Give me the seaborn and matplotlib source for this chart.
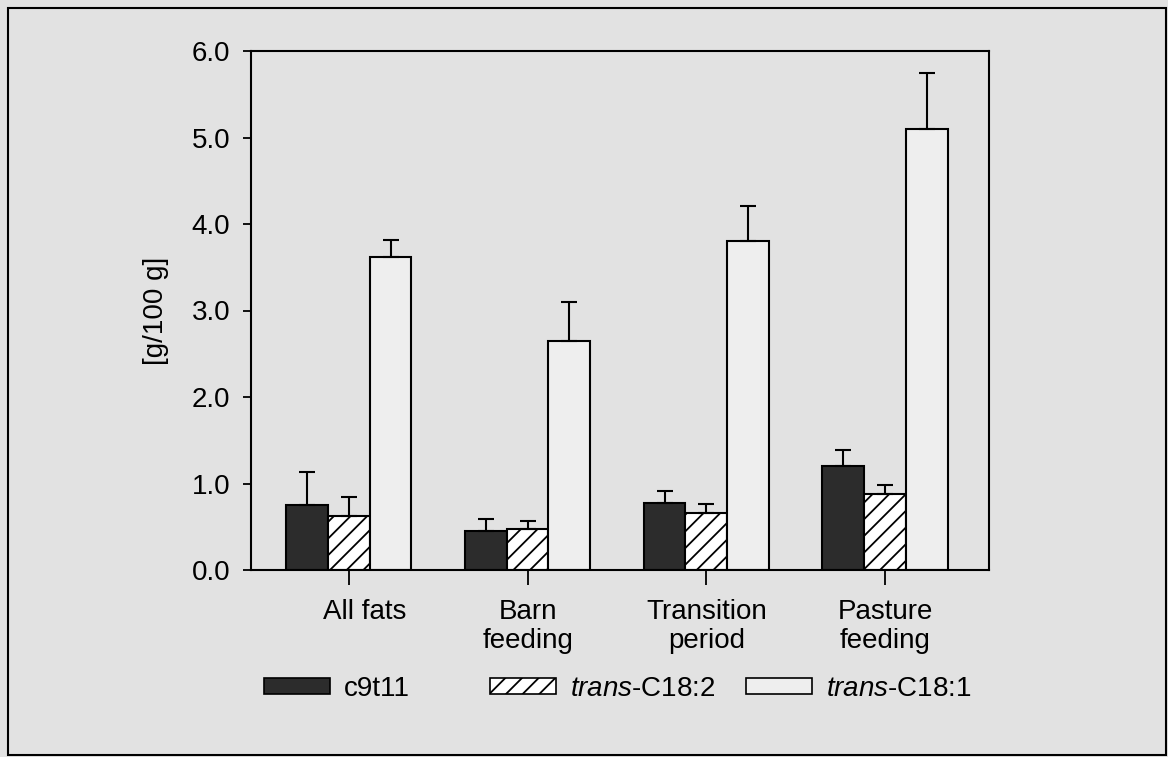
import numpy as np
import pandas as pd
import matplotlib
matplotlib.use("Agg")
import matplotlib.pyplot as plt
import matplotlib.transforms as mtransforms
from matplotlib.patches import Rectangle, Patch
import seaborn as sns

# ---------------- data ----------------
categories = ["All fats", "Barn\nfeeding", "Transition\nperiod", "Pasture\nfeeding"]
series = ["c9t11", "trans-C18:2", "trans-C18:1"]
series_labels = ["c9t11", r"$\it{trans}$-C18:2", r"$\it{trans}$-C18:1"]

c9t11 = [0.75, 0.45, 0.77, 1.20]
c9t11_err = [0.38, 0.14, 0.14, 0.19]
t182 = [0.63, 0.47, 0.66, 0.88]
t182_err = [0.21, 0.10, 0.10, 0.10]
t181 = [3.62, 2.65, 3.80, 5.10]
t181_err = [0.20, 0.45, 0.41, 0.65]

yticks = [0, 1, 2, 3, 4, 5, 6]
ytick_labels = ["0.0", "1.0", "2.0", "3.0", "4.0", "5.0", "6.0"]
ylabel = "[g/100 g]"

values = [c9t11, t182, t181]
errors = [c9t11_err, t182_err, t181_err]

# ---------------- style ----------------
bg = "#e2e2e2"
fills = ["#2c2c2c", "#ffffff", "#eeeeee"]
hatches = ["", "//", ""]

sns.set_style("ticks")
plt.rcParams["font.family"] = ["Liberation Sans", "DejaVu Sans"]
plt.rcParams["mathtext.fontset"] = "custom"
plt.rcParams["mathtext.rm"] = "Liberation Sans"
plt.rcParams["mathtext.it"] = "Liberation Sans:italic"
plt.rcParams["hatch.linewidth"] = 1.3
plt.rcParams["hatch.color"] = "black"
plt.rcParams["text.color"] = "black"
plt.rcParams["axes.labelcolor"] = "black"

df = pd.DataFrame({
    "category": categories * len(series),
    "series": [s for s in series for _ in categories],
    "value": [v for vals in values for v in vals],
})

W, H = 1168, 757
fig = plt.figure(figsize=(W / 100, H / 100), dpi=100, facecolor=bg)
ax = fig.add_axes([251 / W, 1 - 570 / H, (989 - 251) / W, (570 - 51) / H])
ax.set_facecolor(bg)

sns.barplot(data=df, x="category", y="value", hue="series", order=categories,
            hue_order=series, palette=fills, width=0.70, gap=0, errorbar=None,
            edgecolor="black", linewidth=1.5, legend=False, ax=ax)

for cont, h, errs in zip(ax.containers, hatches, errors):
    xs, ys = [], []
    for p in cont.patches:
        p.set_hatch(h)
        xs.append(p.get_x() + p.get_width() / 2)
        ys.append(p.get_height())
    ax.errorbar(xs, ys, yerr=[np.zeros(len(errs)), errs], fmt="none",
                ecolor="black", elinewidth=1.5, capsize=6, capthick=1.5, zorder=1)

ax.set_xlim(-0.548, 3.582)
ax.set_ylim(0, 6.0)
ax.set_yticks(yticks)
ax.set_yticklabels(ytick_labels)
ax.set_xlabel("")
ax.set_ylabel(ylabel, fontsize=20, labelpad=16, color="black")

for s in ax.spines.values():
    s.set_visible(True)
    s.set_linewidth(1.5)
    s.set_color("black")

ax.tick_params(axis="x", direction="out", length=11, width=1.3, pad=10,
               labelsize=20, colors="black")
ax.tick_params(axis="y", direction="out", length=6, width=1.3, pad=9,
               labelsize=20, colors="black")
for lab in ax.get_xticklabels():
    lab.set_linespacing(1.12)
# "All fats" label sits slightly right of its tick in the original
first = ax.get_xticklabels()[0]
first.set_transform(first.get_transform() +
                    mtransforms.ScaledTranslation(16 / 100, 0, fig.dpi_scale_trans))

# ---------------- legend (three entries placed like the original) ----------------
leg_x = [264, 490, 746]
for fc, h, lab, x in zip(fills, hatches, series_labels, leg_x):
    handle = Patch(facecolor=fc, edgecolor="black", hatch=h, linewidth=1.2)
    fig.legend(handles=[handle], labels=[lab], loc="center left",
               bbox_to_anchor=(x / W, 1 - 689 / H), frameon=False, fontsize=20,
               handlelength=2.37, handleheight=0.54, handletextpad=0.5,
               borderpad=0, borderaxespad=0, labelcolor="black")

# outer frame of the figure
fig.patches.append(Rectangle((8 / W, 1 - 755 / H), (1166 - 8) / W, (755 - 8) / H,
                             transform=fig.transFigure, fill=False,
                             edgecolor="black", linewidth=1.5))

fig.savefig("out.png", dpi=100, facecolor=bg)
